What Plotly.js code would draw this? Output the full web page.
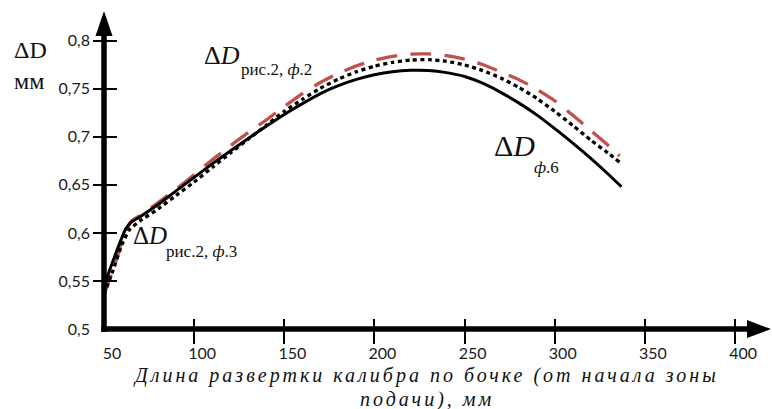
<!DOCTYPE html>
<html><head><meta charset="utf-8">
<script src="https://cdn.plot.ly/plotly-3.0.1.min.js"></script>
<style>body{margin:0;background:#fff}</style>
</head><body><div id="chart" style="width:772px;height:409px"></div>
<script>
// ---- data ----
const xTickVals = [50, 100, 150, 200, 250, 300, 350, 400];
const xTickText = ['50', '100', '150', '200', '250', '300', '350', '400'];
const yTickVals = [0.5, 0.55, 0.6, 0.65, 0.7, 0.75, 0.8];
const yTickText = ['0,5', '0,55', '0,6', '0,65', '0,7', '0,75', '0,8'];

// ΔD ф.6 (solid)
const solidX = [50, 56, 62, 65, 70, 80, 90, 100, 110, 120, 130, 140, 150, 160, 170, 180, 190, 200, 210, 220, 230, 240, 250, 260, 270, 280, 290, 300, 310, 320, 330, 337];
const solidY = [0.545, 0.576, 0.604, 0.611, 0.6168, 0.6295, 0.6437, 0.6578, 0.6718, 0.6852, 0.6983, 0.7110, 0.7233, 0.7345, 0.7450, 0.7532, 0.7597, 0.7645, 0.7677, 0.7692, 0.7690, 0.7668, 0.7628, 0.7558, 0.7463, 0.7353, 0.7228, 0.7085, 0.6935, 0.6775, 0.6605, 0.648];

// ΔD рис.2, ф.3 (dotted)
const dottedX = [50, 55, 60, 64, 70, 80, 90, 100, 110, 120, 130, 140, 150, 160, 170, 180, 190, 200, 210, 220, 230, 240, 250, 260, 270, 280, 290, 300, 310, 320, 330, 336];
const dottedY = [0.536, 0.561, 0.588, 0.603, 0.6125, 0.625, 0.639, 0.653, 0.668, 0.683, 0.6975, 0.712, 0.7265, 0.739, 0.7505, 0.7600, 0.7677, 0.7735, 0.7775, 0.7798, 0.7803, 0.7785, 0.7748, 0.769, 0.7612, 0.7515, 0.7400, 0.7265, 0.7118, 0.6965, 0.6825, 0.6735];

// ΔD рис.2, ф.2 (dashed)
const dashedX = [50, 56, 61, 65, 70, 80, 90, 100, 110, 120, 130, 140, 150, 160, 170, 180, 190, 200, 210, 220, 230, 240, 250, 260, 270, 280, 290, 300, 310, 320, 330, 336];
const dashedY = [0.536, 0.567, 0.597, 0.612, 0.618, 0.6315, 0.6455, 0.6605, 0.676, 0.6905, 0.7045, 0.7175, 0.7315, 0.745, 0.7565, 0.7660, 0.7738, 0.7797, 0.7838, 0.7860, 0.7862, 0.7845, 0.7808, 0.7752, 0.7675, 0.7595, 0.7495, 0.7375, 0.7225, 0.7065, 0.6905, 0.680];

// ---- layout geometry ----
const L = 104, T = 33, PW = 648, PH = 296;
const X_MAX = 50 + PW / 1.803, Y_MAX = 0.5 + PH / 961;
const px2x = p => (p - L) / PW;
const py2y = p => (T + PH - p) / PH;

const serif = 'Liberation Serif';
const ink = '#111';

function lab(text, px, py, size, extra) {
  return Object.assign({
    text: text, xref: 'paper', yref: 'paper', x: px2x(px), y: py2y(py),
    xanchor: 'left', yanchor: 'middle', showarrow: false, borderpad: 0,
    font: {family: serif, size: size, color: ink}
  }, extra || {});
}

const traces = [
  {x: dashedX, y: dashedY, type: 'scatter', mode: 'lines', name: 'ΔD рис.2, ф.2',
   line: {color: '#c0504d', width: 3.3, dash: '21px,13px', shape: 'spline', smoothing: 0.5}},
  {x: dottedX, y: dottedY, type: 'scatter', mode: 'lines', name: 'ΔD рис.2, ф.3',
   line: {color: '#000', width: 3.3, dash: '4px,3.5px', shape: 'spline', smoothing: 0.5}},
  {x: solidX, y: solidY, type: 'scatter', mode: 'lines', name: 'ΔD ф.6',
   line: {color: '#000', width: 3, shape: 'spline', smoothing: 0.5}},
  // empty carriers so that the crossing-tick overlay axes get drawn
  {x: [], y: [], type: 'scatter', mode: 'lines', xaxis: 'x2', yaxis: 'y', hoverinfo: 'skip'},
  {x: [], y: [], type: 'scatter', mode: 'lines', xaxis: 'x', yaxis: 'y2', hoverinfo: 'skip'}
];

const tickFont = {family: 'Lato', size: 16, color: '#1a1a1a'};

const layout = {
  width: 772, height: 409,
  margin: {l: L, r: 772 - L - PW, t: T, b: 409 - T - PH},
  paper_bgcolor: '#fff', plot_bgcolor: 'rgba(0,0,0,0)',
  showlegend: false,
  xaxis: {range: [50, X_MAX], tickvals: xTickVals, ticktext: xTickText, ticks: '',
          showgrid: false, zeroline: false, showline: false, tickfont: tickFont,
          ticklabelshift: 8, ticklabelstandoff: 13},
  yaxis: {range: [0.5, Y_MAX], tickvals: yTickVals, ticktext: yTickText, ticks: '',
          showgrid: false, zeroline: false, showline: false, tickfont: tickFont,
          ticklabelstandoff: 13},
  xaxis2: {overlaying: 'x', anchor: 'free', position: 11 / PH, range: [50, X_MAX],
           tickvals: xTickVals.slice(1), ticks: 'outside', ticklen: 25, tickwidth: 2,
           tickcolor: '#000', showticklabels: false, showgrid: false, zeroline: false, showline: false},
  yaxis2: {overlaying: 'y', anchor: 'free', position: 13 / PW, side: 'left', range: [0.5, Y_MAX],
           tickvals: yTickVals.slice(1), ticks: 'outside', ticklen: 24, tickwidth: 2,
           tickcolor: '#000', showticklabels: false, showgrid: false, zeroline: false, showline: false},
  shapes: [
    {type: 'line', xref: 'paper', yref: 'paper', x0: px2x(101.25), x1: px2x(752), y0: 0, y1: 0,
     line: {color: '#000', width: 5.5}, layer: 'above'},
    {type: 'line', xref: 'paper', yref: 'paper', x0: 0, x1: 0, y0: py2y(331.75), y1: py2y(32),
     line: {color: '#000', width: 5.5}, layer: 'above'},
    {type: 'path', xref: 'paper', yref: 'paper', layer: 'above', fillcolor: '#000', line: {width: 0},
     path: `M ${px2x(104)},${py2y(11)} L ${px2x(112.5)},${py2y(36)} L ${px2x(95.5)},${py2y(36)} Z`},
    {type: 'path', xref: 'paper', yref: 'paper', layer: 'above', fillcolor: '#000', line: {width: 0},
     path: `M ${px2x(771)},${py2y(329)} L ${px2x(747)},${py2y(320)} L ${px2x(747)},${py2y(338)} Z`}
  ],
  annotations: [
    lab('ΔD', 13, 50, 24),
    lab('мм', 13, 81.5, 24),
    lab('Δ<i>D</i>', 203, 55.5, 26),
    lab('рис.2, <i>ф</i>.2', 240, 69.5, 17),
    lab('Δ<i>D</i>', 131.7, 235, 25),
    lab('рис.2, <i>ф</i>.3', 165, 251, 17),
    lab('Δ<i>D</i>', 492.7, 145, 30),
    lab('<i>ф</i>.6', 532.7, 167.5, 17),
    lab('<span style="letter-spacing:3px">Длина развертки калибра по бочке (от начала зоны</span>', 425.5, 375, 20,
        {xanchor: 'center', font: {family: serif, size: 20, color: ink, style: 'italic'}}),
    lab('<span style="letter-spacing:3px">подачи), мм</span>', 427, 399, 20,
        {xanchor: 'center', font: {family: serif, size: 20, color: ink, style: 'italic'}})
  ]
};

Plotly.newPlot('chart', traces, layout, {staticPlot: true, displayModeBar: false});
</script>
</body></html>
